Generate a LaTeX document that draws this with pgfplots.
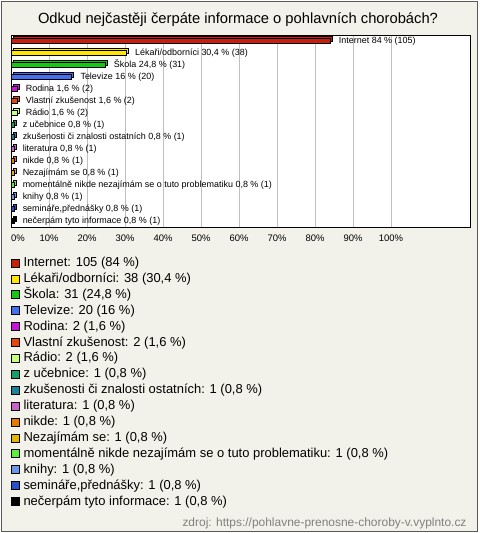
\documentclass[border=0pt]{standalone}
\usepackage{pgfplots}
\pgfplotsset{compat=1.18}
\usepackage{fontspec}
\setmainfont{Liberation Sans}
\definecolor{bgc}{RGB}{243,242,234}
\definecolor{c1}{RGB}{200,30,10}
\definecolor{c2}{RGB}{255,230,0}
\definecolor{c3}{RGB}{20,200,20}
\definecolor{c4}{RGB}{70,110,240}
\definecolor{c5}{RGB}{200,20,220}
\definecolor{c6}{RGB}{230,70,10}
\definecolor{c7}{RGB}{200,255,130}
\definecolor{c8}{RGB}{20,160,100}
\definecolor{c9}{RGB}{30,130,150}
\definecolor{c10}{RGB}{200,100,200}
\definecolor{c11}{RGB}{230,120,0}
\definecolor{c12}{RGB}{230,180,0}
\definecolor{c13}{RGB}{90,240,60}
\definecolor{c14}{RGB}{110,150,230}
\definecolor{c15}{RGB}{40,80,200}
\definecolor{c16}{RGB}{0,0,0}
\pgfplotsset{
  mybar/.style={xbar, bar width=5bp, bar shift=0pt, draw=black, line width=0.8bp},
}
% color, value, index, bar label, legend text
\newcommand{\bbar}[5]{%
  \addplot[mybar, fill=#1, xshift=2bp, yshift=2bp, forget plot] coordinates {(#2,#3)};
  \addplot[mybar, fill=#1,
    legend image code/.code={\draw[fill=#1, draw=black, line width=0.8bp] (0bp,-4bp) rectangle (8bp,4bp);},
    nodes near coords, point meta=explicit symbolic,
    every node near coord/.append style={anchor=west, xshift=5bp, font=\fontsize{9}{10}\selectfont, text=black}]
    coordinates {(#2,#3) [#4]};
  \addlegendentry{#5}
}
\begin{document}
\begin{tikzpicture}
\fill[white] (0,0) rectangle (480bp,-533bp);
\fill[bgc] (1bp,-1bp) rectangle (477bp,-531bp);
\draw[black!65, line width=1bp] (1bp,-1bp) rectangle (477bp,-531bp);
\node[font=\fontsize{14.8}{17}\selectfont, anchor=center] at (238bp,-20bp) {Odkud nejčastěji čerpáte informace o pohlavních chorobách?};
\node[font=\fontsize{12}{14}\selectfont, text=black!50, anchor=east] at (470bp,-523bp) {zdroj: https://pohlavne-prenosne-choroby-v.vyplnto.cz};
\begin{axis}[
  at={(11bp,-227bp)}, anchor=south west,
  scale only axis, width=459bp, height=192bp,
  xmin=0, xmax=120.8, ymin=-0.5, ymax=15.5, y dir=reverse,
  axis background/.style={fill=white},
  axis line style={black, line width=1bp},
  xtick={10,20,...,100},
  xticklabel={\pgfmathprintnumber{\tick}\%},
  extra x ticks={0}, extra x tick labels={0\%},
  extra x tick style={xticklabel style={xshift=7bp}, grid=none},
  ytick=\empty,
  xmajorgrids, grid style={black!25, line width=0.8bp},
  major tick length=0pt,
  /pgf/number format/assume math mode=true,
  xticklabel style={font=\fontsize{9.5}{11}\selectfont, yshift=-4bp},
  clip=false,
  legend cell align=left,
  legend style={at={(axis description cs:-0.0065,-0.14)}, anchor=north west,
    draw=none, fill=none, font=\fontsize{13}{15}\selectfont,
    row sep=1.9bp,
    nodes={inner sep=0.5bp, text height=10bp, text depth=3bp},
    /tikz/every odd column/.append style={column sep=3bp}},
]
\bbar{c1}{84}{0}{Internet 84 \% (105)}{Internet: 105 (84 \%)}
\bbar{c2}{30.4}{1}{Lékaři/odborníci 30,4 \% (38)}{Lékaři/odborníci: 38 (30,4 \%)}
\bbar{c3}{24.8}{2}{Škola 24,8 \% (31)}{Škola: 31 (24,8 \%)}
\bbar{c4}{16}{3}{Televize 16 \% (20)}{Televize: 20 (16 \%)}
\bbar{c5}{1.6}{4}{Rodina 1,6 \% (2)}{Rodina: 2 (1,6 \%)}
\bbar{c6}{1.6}{5}{Vlastní zkušenost 1,6 \% (2)}{Vlastní zkušenost: 2 (1,6 \%)}
\bbar{c7}{1.6}{6}{Rádio 1,6 \% (2)}{Rádio: 2 (1,6 \%)}
\bbar{c8}{0.8}{7}{z učebnice 0,8 \% (1)}{z učebnice: 1 (0,8 \%)}
\bbar{c9}{0.8}{8}{zkušenosti či znalosti ostatních 0,8 \% (1)}{zkušenosti či znalosti ostatních: 1 (0,8 \%)}
\bbar{c10}{0.8}{9}{literatura 0,8 \% (1)}{literatura: 1 (0,8 \%)}
\bbar{c11}{0.8}{10}{nikde 0,8 \% (1)}{nikde: 1 (0,8 \%)}
\bbar{c12}{0.8}{11}{Nezajímám se 0,8 \% (1)}{Nezajímám se: 1 (0,8 \%)}
\bbar{c13}{0.8}{12}{momentálně nikde nezajímám se o tuto problematiku 0,8 \% (1)}{momentálně nikde nezajímám se o tuto problematiku: 1 (0,8 \%)}
\bbar{c14}{0.8}{13}{knihy 0,8 \% (1)}{knihy: 1 (0,8 \%)}
\bbar{c15}{0.8}{14}{semináře,přednášky 0,8 \% (1)}{semináře,přednášky: 1 (0,8 \%)}
\bbar{c16}{0.8}{15}{nečerpám tyto informace 0,8 \% (1)}{nečerpám tyto informace: 1 (0,8 \%)}
\end{axis}
\end{tikzpicture}
\end{document}
